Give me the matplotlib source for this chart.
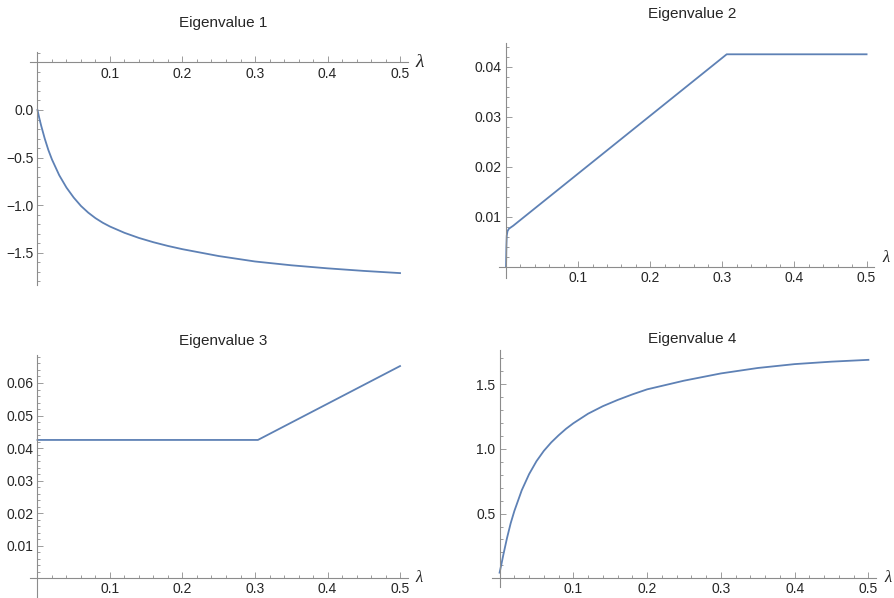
import matplotlib
matplotlib.use('Agg')
import matplotlib.pyplot as plt
import numpy as np

plt.rcParams['font.family'] = ['Liberation Sans', 'DejaVu Sans']

# -------------------------- data --------------------------
lam = [0, 0.0025, 0.005, 0.01, 0.015, 0.02, 0.03, 0.04, 0.05, 0.06, 0.07, 0.08, 0.09,
       0.1, 0.12, 0.14, 0.16, 0.18, 0.2, 0.25, 0.3, 0.35, 0.4, 0.45, 0.5]
eig1 = [0.0, -0.085, -0.162, -0.30, -0.42, -0.52, -0.685, -0.815, -0.92, -1.008,
        -1.078, -1.136, -1.184, -1.224, -1.290, -1.344, -1.389, -1.428, -1.462,
        -1.534, -1.591, -1.631, -1.663, -1.690, -1.713]
eig4 = [0.044, 0.11, 0.18, 0.31, 0.425, 0.52, 0.68, 0.805, 0.905, 0.985, 1.05,
        1.105, 1.155, 1.198, 1.272, 1.33, 1.378, 1.421, 1.46, 1.527, 1.583, 1.625,
        1.655, 1.674, 1.688]

lam2 = [0, 0.0005, 0.001, 0.002, 0.004, 0.01, 0.306, 0.5]
eig2 = [0.0, 0.004, 0.0062, 0.0071, 0.0076, 0.0082, 0.0425, 0.0425]

lam3 = [0, 0.304, 0.5]
eig3 = [0.0425, 0.0425, 0.0652]

titles = ['Eigenvalue 1', 'Eigenvalue 2', 'Eigenvalue 3', 'Eigenvalue 4']
x_ticks = [0.1, 0.2, 0.3, 0.4, 0.5]

line_color = '#5E81B5'
axis_color = '#8c8c8c'
text_color = '#262626'

W, H = 895, 598
fig = plt.figure(figsize=(W / 100, H / 100), dpi=100)


def make_axes(left, top, right, bottom):
    return fig.add_axes([left / W, 1 - bottom / H, (right - left) / W, (bottom - top) / H])


def style(ax, xlim, ylim, xaxis_at, yticks, ymajor_fmt, yminor, lam_dy=0, lam_size=11):
    ax.set_xlim(*xlim)
    ax.set_ylim(*ylim)
    for s in ['top', 'right']:
        ax.spines[s].set_visible(False)
    ax.spines['left'].set_position(('data', 0))
    ax.spines['bottom'].set_position(('data', xaxis_at))
    for s in ['left', 'bottom']:
        ax.spines[s].set_color(axis_color)
        ax.spines[s].set_linewidth(0.8)
    ax.set_xticks(x_ticks)
    ax.set_xticklabels([f'{v:.1f}' for v in x_ticks])
    ax.set_xticks([v for v in np.arange(0.02, 0.5, 0.02) if abs(v * 10 - round(v * 10)) > 1e-6],
                  minor=True)
    ax.set_yticks(yticks)
    ax.set_yticklabels([ymajor_fmt.format(v).replace('-', '\u2212') for v in yticks])
    ax.set_yticks(yminor, minor=True)
    ax.tick_params(which='both', direction='in', colors=axis_color, labelcolor=text_color,
                   labelsize=10, width=0.6)
    ax.tick_params(which='major', length=4)
    ax.tick_params(which='minor', length=2.3)
    ax.tick_params(axis='x', pad=3)
    ax.tick_params(axis='y', pad=3)
    ax.patch.set_visible(False)
    ax.annotate('λ', xy=(1, xaxis_at), xycoords=('axes fraction', 'data'),
                xytext=(12, lam_dy), textcoords='offset pixels', ha='center', va='center',
                fontsize=lam_size, family=['Liberation Serif', 'DejaVu Serif'],
                style='italic', color=text_color)


xlim = (-0.0103, 0.5103)

# Eigenvalue 1
ax1 = make_axes(30, 52, 407.5, 285)
ax1.plot(lam, eig1, color=line_color, lw=1.3)
style(ax1, xlim, (-1.838, 0.609), 0.5, [-1.5, -1.0, -0.5, 0.0], '{:.1f}',
      [v for v in np.arange(-1.8, 0.65, 0.1) if abs(v * 2 - round(v * 2)) > 1e-6],
      lam_dy=0, lam_size=14)

# Eigenvalue 2
ax2 = make_axes(498.6, 43.3, 874.0, 278)
ax2.plot(lam2, eig2, color=line_color, lw=1.3)
style(ax2, xlim, (-0.00226, 0.0447), 0.0, [0.01, 0.02, 0.03, 0.04], '{:.2f}',
      [v for v in np.arange(0.002, 0.0446, 0.002) if abs(v * 100 - round(v * 100)) > 1e-6],
      lam_dy=9, lam_size=12)

# Eigenvalue 3
ax3 = make_axes(30, 355, 407.5, 598)
ax3.plot(lam3, eig3, color=line_color, lw=1.3)
style(ax3, xlim, (-0.00606, 0.0686), 0.0, [0.01, 0.02, 0.03, 0.04, 0.05, 0.06], '{:.2f}',
      [v for v in np.arange(0.002, 0.0685, 0.002) if abs(v * 100 - round(v * 100)) > 1e-6],
      lam_dy=0, lam_size=12)

# Eigenvalue 4
ax4 = make_axes(492, 350, 876, 587)
ax4.plot(lam, eig4, color=line_color, lw=1.3)
style(ax4, xlim, (-0.067, 1.764), 0.0, [0.5, 1.0, 1.5], '{:.1f}',
      [v for v in np.arange(0.1, 1.75, 0.1) if abs(v * 2 - round(v * 2)) > 1e-6],
      lam_dy=0, lam_size=12)

# titles
title_pos = [(223, 23), (692.5, 14), (223, 341.5), (692.5, 339.5)]
for t, (px, py) in zip(titles, title_pos):
    fig.text(px / W, 1 - py / H, t, ha='center', va='center', fontsize=11, color=text_color)

fig.savefig('out.png', dpi=100)
